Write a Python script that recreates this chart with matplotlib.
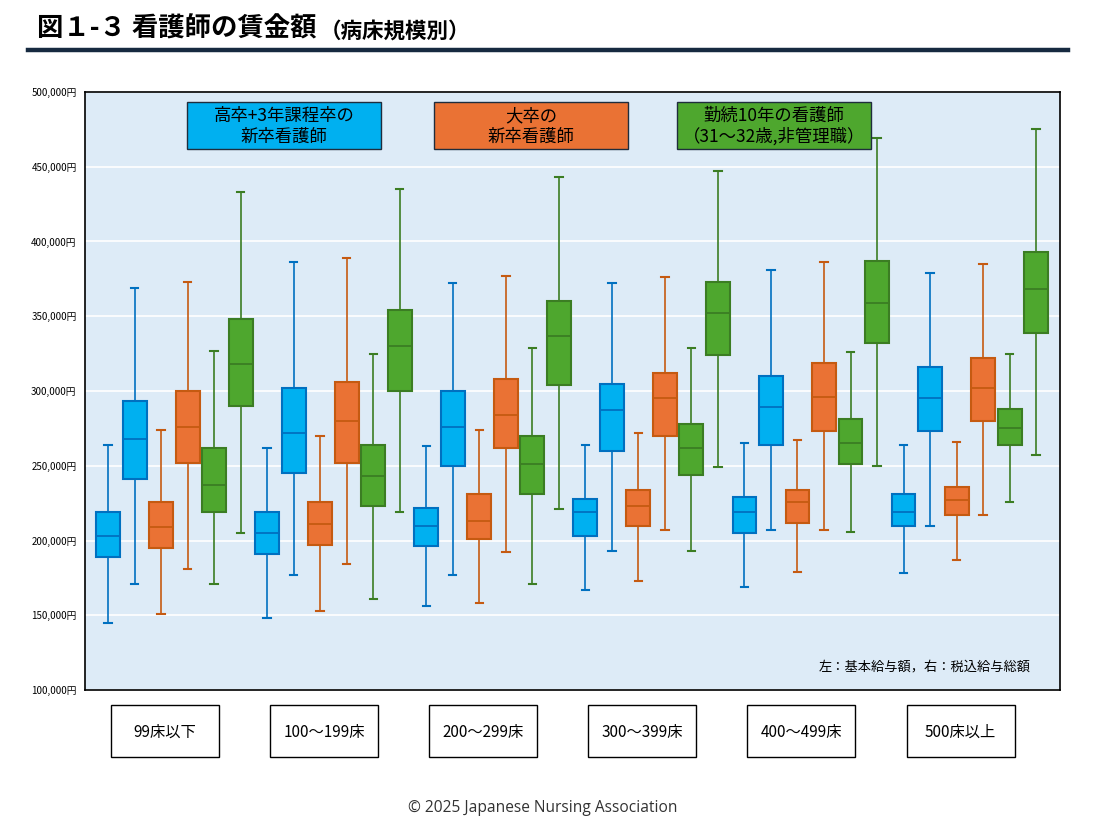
import matplotlib.pyplot as plt
from matplotlib.patches import Rectangle
from matplotlib.lines import Line2D
import matplotlib.transforms as mtransforms

plt.rcParams['font.family'] = ['Noto Sans CJK JP', 'DejaVu Sans']

# 病床規模
groups = ["99床以下", "100〜199床", "200〜299床", "300〜399床", "400〜499床", "500床以上"]

# 各箱ひげ: [下ひげ, 第1四分位, 中央値, 第3四分位, 上ひげ] (千円)
koukou_kihon = [[145, 189, 203, 219, 264], [148, 191, 205, 219, 262], [156, 196, 210, 222, 263],
                [167, 203, 219, 228, 264], [169, 205, 219, 229, 265], [178, 210, 219, 231, 264]]
koukou_zeikomi = [[171, 241, 268, 293, 369], [177, 245, 272, 302, 386], [177, 250, 276, 300, 372],
                  [193, 260, 287, 305, 372], [207, 264, 289, 310, 381], [210, 273, 295, 316, 379]]
daisotsu_kihon = [[151, 195, 209, 226, 274], [153, 197, 211, 226, 270], [158, 201, 213, 231, 274],
                  [173, 210, 223, 234, 272], [179, 212, 226, 234, 267], [187, 217, 227, 236, 266]]
daisotsu_zeikomi = [[181, 252, 276, 300, 373], [184, 252, 280, 306, 389], [192, 262, 284, 308, 377],
                    [207, 270, 295, 312, 376], [207, 273, 296, 319, 386], [217, 280, 302, 322, 385]]
kinzoku_kihon = [[171, 219, 237, 262, 327], [161, 223, 243, 264, 325], [171, 231, 251, 270, 329],
                 [193, 244, 262, 278, 329], [206, 251, 265, 281, 326], [226, 264, 275, 288, 325]]
kinzoku_zeikomi = [[205, 290, 318, 348, 433], [219, 300, 330, 354, 435], [221, 304, 337, 360, 443],
                   [249, 324, 352, 373, 447], [250, 332, 359, 387, 469], [257, 339, 368, 393, 475]]

series_labels = ["高卒+3年課程卒の\n新卒看護師", "大卒の\n新卒看護師", "勤続10年の看護師\n（31〜32歳,非管理職）"]
series_data = [(koukou_kihon, koukou_zeikomi), (daisotsu_kihon, daisotsu_zeikomi),
               (kinzoku_kihon, kinzoku_zeikomi)]
fills = ["#00B0F0", "#EA7234", "#4EA72E"]
edges = ["#0070C0", "#C55A11", "#3B7D23"]

y_ticks = [100, 150, 200, 250, 300, 350, 400, 450, 500]

W, H = 1096, 822
fig = plt.figure(figsize=(W / 100, H / 100), dpi=100)
ax = fig.add_axes([85 / W, 1 - 690 / H, 975 / W, 598 / H])
ax.set_facecolor("#DDEBF7")

n_series = len(series_data)
per_group = n_series * 2
for s, (kihon, zeikomi) in enumerate(series_data):
    for j, arr in enumerate((kihon, zeikomi)):
        stats = []
        pos = []
        for g, v in enumerate(arr):
            stats.append({"whislo": v[0], "q1": v[1], "med": v[2], "q3": v[3], "whishi": v[4]})
            pos.append(g * per_group + s * 2 + j)
        ax.bxp(stats, positions=pos, widths=0.9, capwidths=0.28, patch_artist=True,
               showfliers=False, manage_ticks=False,
               boxprops=dict(facecolor=fills[s], edgecolor=edges[s], linewidth=1.5),
               medianprops=dict(color=edges[s], linewidth=1.3),
               whiskerprops=dict(color=edges[s], linewidth=1.2),
               capprops=dict(color=edges[s], linewidth=1.5), zorder=3)

ax.set_xlim(-0.87, len(groups) * per_group - 0.1)
ax.set_ylim(100, 500)
ax.set_yticks(y_ticks)
ax.set_yticklabels([f"{v * 1000:,}円" for v in y_ticks], fontsize=7)
ax.set_xticks([])
ax.tick_params(axis="y", length=0, pad=6)
ax.grid(axis="y", color="white", linewidth=1.2, zorder=1)
ax.set_axisbelow(True)
for sp in ax.spines.values():
    sp.set_color("black")
    sp.set_linewidth(1.2)

# 凡例ボックス
legend_x = [(187 - 85) / 975, (434 - 85) / 975, (677 - 85) / 975]
for s, lab in enumerate(series_labels):
    x0 = legend_x[s]
    w = 194 / 975
    ax.add_patch(Rectangle((x0, (690 - 149) / 598), w, 47 / 598, transform=ax.transAxes,
                           facecolor=fills[s], edgecolor="#1F2D3D", linewidth=1, zorder=5))
    ax.text(x0 + w / 2, (690 - 126.5) / 598, lab, transform=ax.transAxes, ha="center",
            va="center", fontsize=12.5, linespacing=1.15, zorder=6)

# 病床規模ラベル
trans = mtransforms.blended_transform_factory(ax.transData, ax.transAxes)
bw = 108 / 26.51
for g, lab in enumerate(groups):
    cx = g * per_group + 2.15
    ax.add_patch(Rectangle((cx - bw / 2, (690 - 757) / 598), bw, 52 / 598, transform=trans,
                           facecolor="white", edgecolor="black", linewidth=1, clip_on=False))
    ax.text(cx, (690 - 732) / 598, lab, transform=trans, ha="center", va="center",
            fontsize=11, clip_on=False)

ax.text((1031 - 85) / 975, (690 - 667) / 598, "左：基本給与額，右：税込給与総額",
        transform=ax.transAxes, ha="right", va="center", fontsize=9.5)

# タイトル
t = fig.text(37 / W, 1 - 29 / H, "図１-３ 看護師の賃金額", fontsize=19, fontweight="bold",
             va="center")
r = fig.canvas.get_renderer()
bb = t.get_window_extent(renderer=r)
fig.text(bb.x1 / W + 3 / W, 1 - 31 / H, "（病床規模別）", fontsize=15.5, fontweight="bold",
         va="center")
fig.add_artist(Line2D([28 / W, 1068 / W], [1 - 50 / H, 1 - 50 / H], color="#162A40",
                      linewidth=3.2, transform=fig.transFigure))

fig.text(543 / W, 1 - 808 / H, "© 2025 Japanese Nursing Association", ha="center",
         va="center", fontsize=11.2, color="#333333", family="Open Sans")

fig.savefig("out.png", dpi=100)
